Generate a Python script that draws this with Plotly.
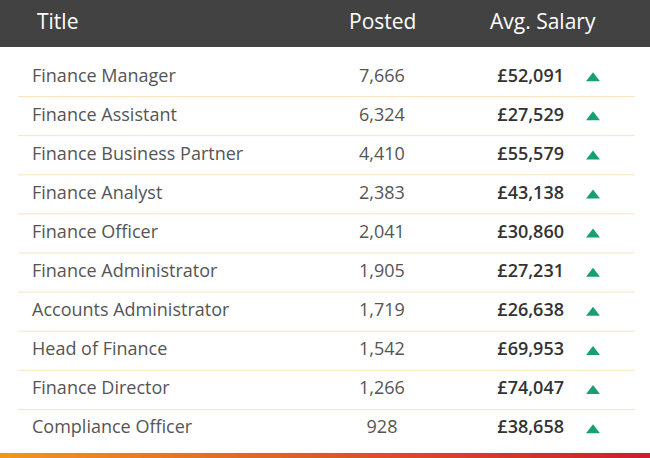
import plotly.graph_objects as go

titles = ["Finance Manager", "Finance Assistant", "Finance Business Partner", "Finance Analyst",
          "Finance Officer", "Finance Administrator", "Accounts Administrator", "Head of Finance",
          "Finance Director", "Compliance Officer"]
posted = [7666, 6324, 4410, 2383, 2041, 1905, 1719, 1542, 1266, 928]
salary = [52091, 27529, 55579, 43138, 30860, 27231, 26638, 69953, 74047, 38658]
headers = ["Title", "Posted", "Avg. Salary"]

n = len(titles)
rows = list(range(n))
FONT = "Open Sans"

fig = go.Figure()
fig.add_trace(go.Scatter(x=[32]*n, y=rows, mode="text", text=titles, textposition="middle right",
                         textfont=dict(family=FONT, size=18, color="#555555"), hoverinfo="skip"))
fig.add_trace(go.Scatter(x=[382]*n, y=rows, mode="text", text=[f"{v:,}" for v in posted],
                         textposition="middle center",
                         textfont=dict(family=FONT, size=18, color="#555555"), hoverinfo="skip"))
fig.add_trace(go.Scatter(x=[564]*n, y=rows, mode="text", text=[f"£{v:,}" for v in salary],
                         textposition="middle left",
                         textfont=dict(family=FONT, size=18, color="#333333", weight=600), hoverinfo="skip"))
fig.add_trace(go.Scatter(x=[593]*n, y=[r + 0.03 for r in rows], mode="markers",
                         marker=dict(symbol="triangle-up", size=12, color="#17a06f"), hoverinfo="skip"))

shapes = [dict(type="rect", xref="x", yref="y", x0=0, x1=650, y0=-2.1, y1=-0.77,
               fillcolor="#424242", line_width=0, layer="below")]
for i in range(n - 1):
    shapes.append(dict(type="line", xref="x", yref="y", x0=18, x1=635, y0=i + 0.5, y1=i + 0.5,
                       line=dict(color="#fce3c0", width=1)))
# bottom gradient bar (styling)
steps = 60
c0, c1 = (240, 150, 30), (205, 30, 50)
for k in range(steps):
    t = k / (steps - 1)
    c = tuple(int(c0[j] + (c1[j] - c0[j]) * t) for j in range(3))
    shapes.append(dict(type="rect", xref="x", yref="paper", x0=650 * k / steps, x1=650 * (k + 1) / steps + 1,
                       y0=0, y1=0.011, fillcolor=f"rgb{c}", line_width=0))

hx = [35, 382, 543]
hanchor = ["left", "center", "center"]
annotations = [dict(x=x, y=-1.42, xref="x", yref="y", text=h, showarrow=False, xanchor=a,
                    font=dict(family=FONT, size=21, color="white"))
               for x, h, a in zip(hx, headers, hanchor)]

fig.update_layout(width=650, height=458, margin=dict(l=0, r=0, t=0, b=0),
                  paper_bgcolor="white", plot_bgcolor="white", showlegend=False,
                  shapes=shapes, annotations=annotations,
                  xaxis=dict(range=[0, 650], visible=False, fixedrange=True),
                  yaxis=dict(range=[9.742, -1.969], visible=False, fixedrange=True))
fig.write_html("out.html", config={"displayModeBar": False},
               post_script="document.body.style.margin='0';document.body.style.overflow='hidden';")
